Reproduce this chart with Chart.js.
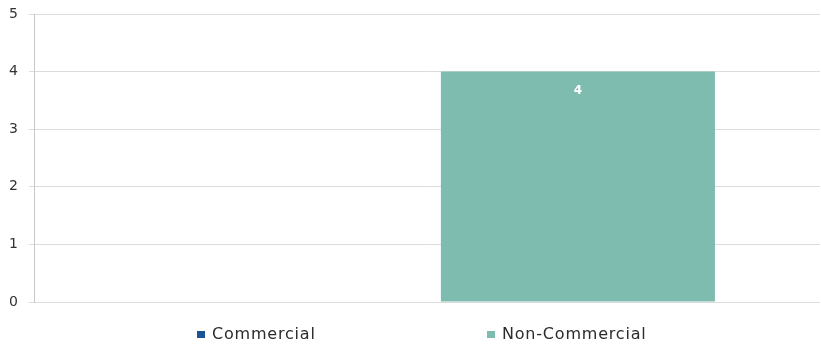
<!DOCTYPE html>
<html>
<head>
<meta charset="utf-8">
<script src="https://cdn.jsdelivr.net/npm/chart.js@4.4.0/dist/chart.umd.min.js"></script>
<style>
    html, body { margin: 0; padding: 0; background: #fff; }
    #wrap { position: relative; width: 821px; height: 347px; }
    #legend { position: absolute; top: 324px; left: 0; width: 821px; height: 20px;
              font-family: "DejaVu Sans", Verdana, sans-serif; font-size: 16px; color: #2b2b2b; letter-spacing: 0.8px; }
    .item { position: absolute; top: 0; white-space: nowrap; line-height: 20px; }
    .box { display: inline-block; width: 8px; height: 7px; margin-right: 7px; vertical-align: 1px; }
</style>
</head>
<body>
<div id="wrap">
    <canvas id="chart" width="821" height="347"></canvas>
    <div id="legend"></div>
</div>
<script>
// Chart data
const categories = [''];
const seriesNames = ['Commercial', 'Non-Commercial'];
const commercialValues = [0];
const nonCommercialValues = [4];
const seriesColors = ['#1c5396', '#7ebcb0'];
const yTicks = [0, 1, 2, 3, 4, 5];

// draw value labels inside bars
const valueLabels = {
    id: 'valueLabels',
    afterDatasetsDraw(chart) {
        const ctx = chart.ctx;
        ctx.save();
        ctx.fillStyle = '#fff';
        ctx.font = 'bold 12px "DejaVu Sans", sans-serif';
        ctx.textAlign = 'center';
        ctx.textBaseline = 'middle';
        chart.data.datasets.forEach((ds, i) => {
            chart.getDatasetMeta(i).data.forEach((bar, j) => {
                const v = ds.data[j];
                if (!v) return;
                ctx.fillText(String(v), bar.x, bar.y + 19);
            });
        });
        ctx.restore();
    }
};

new Chart(document.getElementById('chart'), {
    type: 'bar',
    data: {
        labels: categories,
        datasets: [
            { label: seriesNames[0], data: commercialValues, backgroundColor: seriesColors[0] },
            { label: seriesNames[1], data: nonCommercialValues, backgroundColor: seriesColors[1] }
        ]
    },
    options: {
        responsive: false,
        animation: false,
        categoryPercentage: 0.768,
        barPercentage: 0.908,
        layout: { padding: { top: 14, right: 1, bottom: 45, left: 0 } },
        plugins: {
            legend: { display: false },
            tooltip: { enabled: false }
        },
        scales: {
            x: { display: false },
            y: {
                min: 0,
                max: 5,
                afterBuildTicks: (scale) => { scale.ticks = yTicks.map(v => ({ value: v })); },
                afterFit: (scale) => {
                    scale.width = 34;
                    scale.paddingTop = 0;
                    scale.paddingBottom = 0;
                },
                ticks: {
                    color: '#333',
                    padding: 11,
                    font: { family: '"DejaVu Sans", sans-serif', size: 14 }
                },
                grid: { color: '#dcdcdc', tickLength: 5, lineWidth: 1 },
                border: { color: '#c8c8c8' }
            }
        }
    },
    plugins: [valueLabels]
});

// legend in html, placed like the original
const legendPos = [197, 487];
const legend = document.getElementById('legend');
seriesNames.forEach((name, i) => {
    const el = document.createElement('div');
    el.className = 'item';
    el.style.left = legendPos[i] + 'px';
    el.innerHTML = '<span class="box" style="background:' + seriesColors[i] + '"></span>' + name;
    legend.appendChild(el);
});
</script>
</body>
</html>
